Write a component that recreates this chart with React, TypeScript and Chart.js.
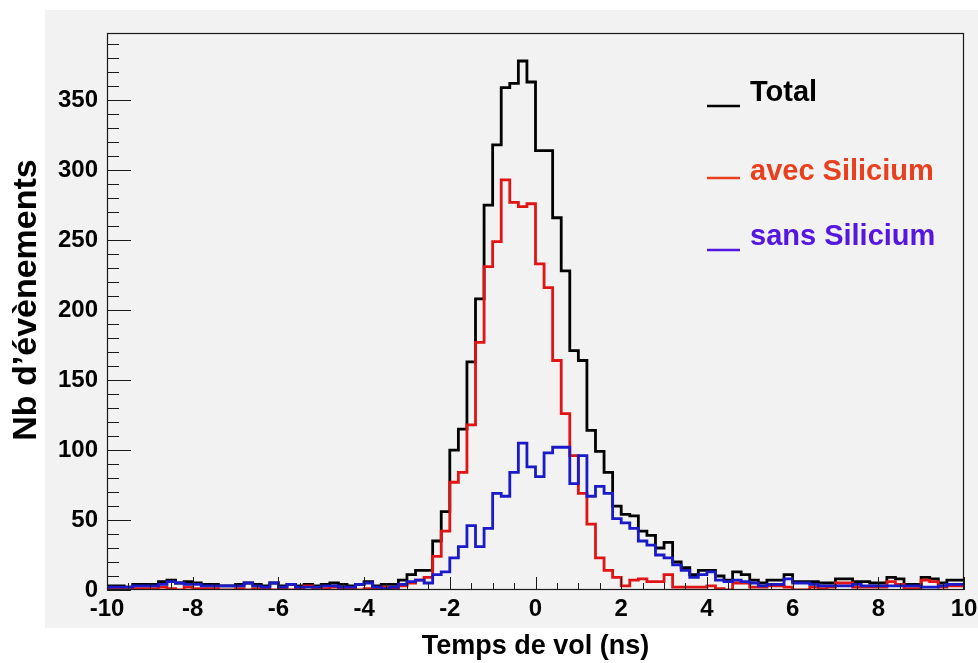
import React, { useEffect, useRef } from "react";
import { Chart, registerables } from "chart.js";

Chart.register(...registerables);

// Histogram binning (ns)
const X_MIN = -10;
const X_MAX = 10;
const BIN_WIDTH = 0.2;
const Y_MAX = 398;

// Counts per 0.2 ns bin, from -10 ns to +10 ns (100 bins)
const total = [
  3, 3, 2, 4, 4, 4, 6, 7, 5, 6,
  5, 4, 4, 3, 3, 4, 5, 4, 3, 5,
  3, 4, 3, 4, 3, 4, 5, 4, 3, 4,
  6, 3, 4, 4, 7, 11, 14, 14, 35, 56,
  100, 115, 163, 208, 275, 318, 359, 362, 378, 363,
  314, 314, 266, 228, 171, 164, 114, 99, 84, 60,
  54, 53, 42, 39, 30, 34, 20, 16, 11, 14,
  14, 10, 7, 13, 11, 7, 5, 7, 7, 11,
  6, 6, 6, 5, 5, 8, 8, 6, 6, 5,
  5, 9, 8, 4, 4, 9, 8, 5, 7, 7,
];

const avecSilicium = [
  1, 1, 0, 1, 1, 1, 2, 1, 0, 2,
  1, 1, 1, 0, 0, 1, 0, 1, 1, 0,
  1, 0, 1, 3, 1, 1, 2, 1, 1, 0,
  1, 1, 2, 1, 3, 5, 7, 9, 24, 42,
  77, 84, 118, 177, 231, 249, 293, 277, 274, 276,
  233, 216, 164, 126, 96, 69, 47, 23, 14, 9,
  3, 7, 8, 6, 6, 11, 2, 2, 2, 2,
  3, 1, 0, 5, 5, 2, 2, 3, 3, 2,
  0, 0, 2, 1, 2, 5, 5, 2, 2, 2,
  2, 6, 4, 1, 1, 7, 6, 2, 3, 3,
];

const sansSilicium = [
  2, 2, 2, 3, 3, 3, 4, 6, 5, 4,
  4, 3, 3, 3, 3, 3, 5, 3, 2, 5,
  2, 4, 2, 2, 2, 3, 3, 2, 2, 4,
  5, 2, 1, 2, 4, 6, 7, 5, 11, 13,
  23, 31, 46, 31, 44, 69, 67, 84, 105, 88,
  81, 98, 102, 102, 76, 96, 67, 74, 69, 51,
  48, 44, 35, 32, 25, 23, 18, 14, 9, 11,
  13, 7, 6, 7, 6, 5, 3, 4, 4, 8,
  5, 5, 4, 3, 3, 3, 3, 4, 3, 3,
  3, 3, 3, 3, 3, 2, 2, 3, 4, 4,
];

const xTickLabels = [-10, -8, -6, -4, -2, 0, 2, 4, 6, 8, 10];
const yTickLabels = [0, 50, 100, 150, 200, 250, 300, 350];
const X_MINOR_STEP = 0.5;
const Y_MINOR_STEP = 10;

const seriesLabels = ["Total", "avec Silicium", "sans Silicium"];
const lineColors = ["#000000", "#e01414", "#1a1ac8"];
const legendTextColors = ["#000000", "#e8401e", "#5516e0"];
const xTitle = "Temps de vol (ns)";
const yTitle = "Nb d’évènements";

const FONT_FAMILY = '"Liberation Sans", Arial, Helvetica, sans-serif';

// Points at each bin's left edge; "before" stepping holds a bin's value
// across the bin, and a closing point at the upper edge ends the last bin.
function toSteps(values: number[]) {
  const pts = values.map((v, i) => ({ x: X_MIN + i * BIN_WIDTH, y: v }));
  pts.push({ x: X_MAX, y: values[values.length - 1] });
  return pts;
}

const rootStyle = {
  id: "rootStyle",
  beforeDraw(chart: any) {
    const { ctx, width, height } = chart;
    ctx.save();
    ctx.fillStyle = "#ffffff";
    ctx.fillRect(0, 0, width, height);
    ctx.fillStyle = "#f2f2f2";
    ctx.fillRect(45, 10, width - 45, 618);
    ctx.restore();
  },
  afterDatasetsDraw(chart: any) {
    const { ctx, chartArea } = chart;
    const xs = chart.scales.x;
    const ys = chart.scales.y;
    const { left, right, top, bottom } = chartArea;
    ctx.save();
    // frame
    ctx.strokeStyle = "#1a1a1a";
    ctx.lineWidth = 1.2;
    ctx.strokeRect(left + 0.5, top + 0.5, right - left - 1, bottom - top - 1);
    // inward ticks
    ctx.lineWidth = 1;
    ctx.beginPath();
    for (let v = 0; v <= ys.max + 1e-9; v += Y_MINOR_STEP) {
      const py = Math.round(ys.getPixelForValue(v)) + 0.5;
      const len = v % 50 === 0 ? 24 : 12;
      ctx.moveTo(left, py);
      ctx.lineTo(left + len, py);
    }
    for (let k = 0; X_MIN + k * X_MINOR_STEP <= X_MAX + 1e-9; k++) {
      const v = X_MIN + k * X_MINOR_STEP;
      const px = Math.round(xs.getPixelForValue(v)) + 0.5;
      const len = k % 4 === 0 ? 13 : 7;
      ctx.moveTo(px, bottom);
      ctx.lineTo(px, bottom - len);
    }
    ctx.stroke();

    // y axis title
    ctx.save();
    ctx.translate(27, 300);
    ctx.rotate(-Math.PI / 2);
    ctx.font = `bold 34px ${FONT_FAMILY}`;
    ctx.fillStyle = "#000";
    ctx.textAlign = "center";
    ctx.textBaseline = "middle";
    ctx.fillText(yTitle, 0, 0);
    ctx.restore();

    // legend
    const legendY = [101, 180, 245];
    const markerY = [106, 178, 250];
    ctx.font = `bold 29px ${FONT_FAMILY}`;
    ctx.textBaseline = "alphabetic";
    ctx.textAlign = "left";
    chart.data.datasets.forEach((ds: any, i: number) => {
      ctx.strokeStyle = legendTextColors[i];
      ctx.lineWidth = 2.5;
      ctx.beginPath();
      ctx.moveTo(707, markerY[i]);
      ctx.lineTo(740, markerY[i]);
      ctx.stroke();
      ctx.fillStyle = legendTextColors[i];
      ctx.fillText(ds.label, 750, legendY[i]);
    });
    ctx.restore();
  },
};

export default function App() {
  const ref = useRef<HTMLCanvasElement>(null);

  useEffect(() => {
    const canvas = ref.current;
    if (!canvas) return;
    const tickFont = { family: FONT_FAMILY, size: 24, weight: "bold" as const };
    const chart = new Chart(canvas, {
      type: "line",
      data: {
        datasets: [total, avecSilicium, sansSilicium].map((vals, i) => ({
          label: seriesLabels[i],
          data: toSteps(vals),
          borderColor: lineColors[i],
          backgroundColor: lineColors[i],
          borderWidth: 2.8,
          pointRadius: 0,
          fill: false,
          stepped: "before" as const,
          tension: 0,
          order: 3 - i,
        })),
      },
      options: {
        animation: false,
        responsive: false,
        devicePixelRatio: 1,
        layout: { padding: { left: 0, top: 33, right: 14, bottom: 0 } },
        plugins: {
          legend: { display: false },
          tooltip: { enabled: false },
        },
        scales: {
          x: {
            type: "linear",
            min: X_MIN,
            max: X_MAX,
            afterBuildTicks: (s: any) => {
              s.ticks = xTickLabels.map((v) => ({ value: v }));
            },
            afterFit: (s: any) => {
              s.height = 73;
              s.paddingLeft = 0;
              s.paddingRight = 0;
            },
            grid: { display: false, drawTicks: false },
            border: { display: false },
            ticks: {
              font: tickFont,
              color: "#000",
              padding: 5,
              maxRotation: 0,
              autoSkip: false,
            },
            title: {
              display: true,
              text: xTitle,
              color: "#000",
              font: { family: FONT_FAMILY, size: 27, weight: "bold" },
              padding: { top: 0, bottom: 0 },
            },
          },
          y: {
            type: "linear",
            min: 0,
            max: Y_MAX,
            afterBuildTicks: (s: any) => {
              s.ticks = yTickLabels.map((v) => ({ value: v }));
            },
            afterFit: (s: any) => {
              s.width = 107;
              s.paddingTop = 0;
              s.paddingBottom = 0;
            },
            grid: { display: false, drawTicks: false },
            border: { display: false },
            ticks: {
              font: tickFont,
              color: "#000",
              padding: 9,
              autoSkip: false,
            },
            title: { display: false },
          },
        },
      },
      plugins: [rootStyle],
    });
    return () => chart.destroy();
  }, []);

  return (
    <div style={{ position: "fixed", left: 0, top: 0, width: 978, height: 663 }}>
      <canvas
        ref={ref}
        width={978}
        height={663}
        style={{ width: 978, height: 663, display: "block" }}
      />
    </div>
  );
}
